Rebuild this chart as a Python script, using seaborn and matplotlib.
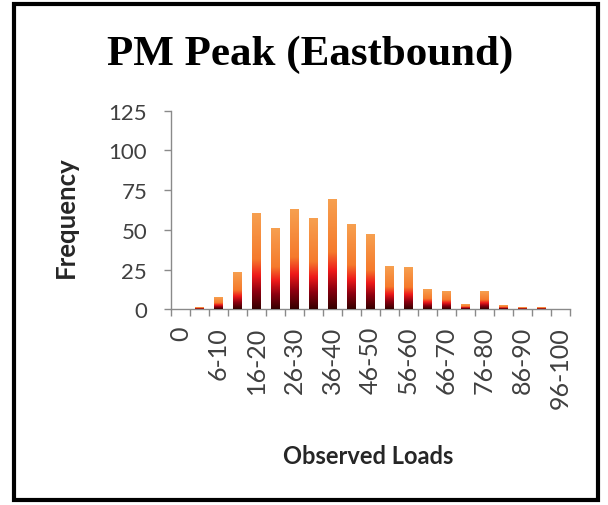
import matplotlib.pyplot as plt
import numpy as np
import seaborn as sns
from matplotlib.colors import LinearSegmentedColormap
from matplotlib.patches import Rectangle

# --- data ---
categories = ['0', '1-5', '6-10', '11-15', '16-20', '21-25', '26-30', '31-35',
              '36-40', '41-45', '46-50', '51-55', '56-60', '61-65', '66-70',
              '71-75', '76-80', '81-85', '86-90', '91-95', '96-100']
frequency = [0, 1, 7, 23, 60, 51, 63, 57, 69, 53, 47, 27, 26, 12, 11, 3, 11, 2, 1, 1, 0]
y_ticks = [0, 25, 50, 75, 100, 125]

sns.set_style('white')
plt.rcParams['font.family'] = ['Lato', 'DejaVu Sans']

fig = plt.figure(figsize=(6.08, 5.06), dpi=100)
ax = fig.add_axes([0.281, 0.387, 0.656, 0.392])

sns.barplot(x=categories, y=frequency, width=0.44, color='#F08C30', ax=ax)

# excel-style vertical gradient on each bar (dark at bottom, orange on top)
cmap = LinearSegmentedColormap.from_list(
    'bar_grad',
    [(0.0, '#350000'), (0.18, '#8C0010'), (0.35, '#EE1A1A'),
     (0.52, '#F57A2C'), (1.0, '#F7A050')])
grad = np.linspace(0, 1, 256).reshape(-1, 1)
for p in ax.patches:
    h = p.get_height()
    if h <= 0:
        continue
    x0 = p.get_x()
    ax.imshow(grad, extent=[x0, x0 + p.get_width(), 0, h], origin='lower',
              aspect='auto', cmap=cmap, zorder=3)
    p.set_visible(False)

ax.set_xlim(-0.5, len(categories) - 0.5)
ax.set_ylim(0, 125)
ax.set_yticks(y_ticks)

# axes / ticks
axis_col = '#8A8A8A'
for s in ['top', 'right']:
    ax.spines[s].set_visible(False)
for s in ['left', 'bottom']:
    ax.spines[s].set_color(axis_col)
    ax.spines[s].set_linewidth(1.0)

ax.set_xticks(range(len(categories)))
ax.set_xticklabels([c if i % 2 == 0 else '' for i, c in enumerate(categories)],
                   rotation=90)
ax.set_xticks(np.arange(-0.5, len(categories), 1), minor=True)
ax.tick_params(axis='x', which='major', length=0, pad=12, labelsize=18,
               labelcolor='#404040')
ax.tick_params(axis='x', which='minor', bottom=True, length=5, width=1,
               color=axis_col, direction='out')
ax.tick_params(axis='y', left=True, length=5, width=1, color=axis_col,
               direction='out', pad=12, labelsize=16, labelcolor='#404040')

ax.set_xlabel('Observed Loads', fontsize=17, fontweight='bold', color='#262626')
ax.set_ylabel('Frequency', fontsize=18.5, fontweight='bold', color='#262626')
ax.xaxis.set_label_coords(0.496, -0.682)
ax.yaxis.set_label_coords(-0.233, 0.47)

fig.text(0.51, 0.891, 'PM Peak (Eastbound)', family='Liberation Serif',
         fontweight='bold', fontsize=31, ha='center', va='center', color='black')

# outer frame
fig.add_artist(Rectangle((0.023, 0.0099), 0.9606, 0.981, transform=fig.transFigure,
                         fill=False, lw=3, ec='black'))

fig.savefig('out.png', dpi=100, facecolor='white')
